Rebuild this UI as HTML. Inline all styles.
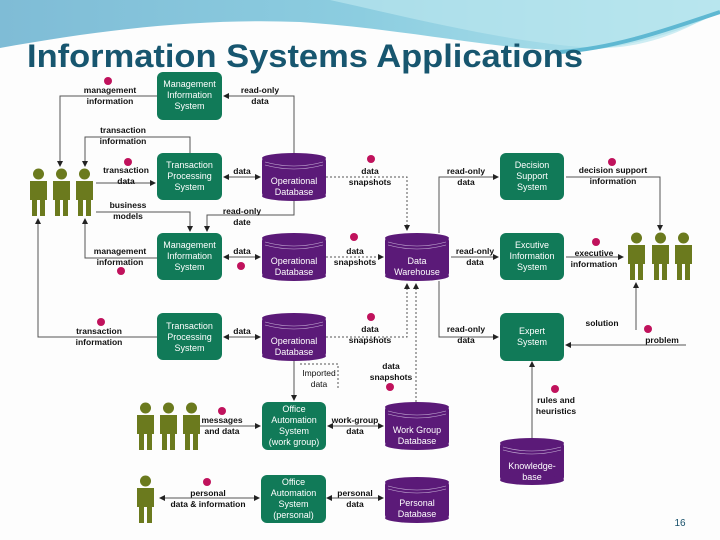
<!DOCTYPE html>
<html><head><meta charset="utf-8"><style>
html,body{margin:0;padding:0;background:#fff}
svg{display:block}
text{font-family:"Liberation Sans",sans-serif}
.l{font-size:8.5px;fill:#111;text-anchor:middle;font-weight:bold}
.w{font-size:9px;fill:#fff;text-anchor:middle}
.ln{stroke:#555;stroke-width:1;fill:none}
.ds{stroke:#555;stroke-width:1;fill:none;stroke-dasharray:2,2}
</style></head><body>
<svg width="720" height="540" viewBox="0 0 720 540" xmlns="http://www.w3.org/2000/svg">
<defs>
<linearGradient id="bg" x1="0" y1="0" x2="1" y2="0">
<stop offset="0" stop-color="#7fbcd6"/><stop offset="0.5" stop-color="#8ccde0"/><stop offset="1" stop-color="#b6e6ee"/></linearGradient>
<marker id="a" markerWidth="6" markerHeight="6" refX="5" refY="3" orient="auto" markerUnits="userSpaceOnUse"><path d="M0,0 L6,3 L0,6z" fill="#222"/></marker>
<marker id="s" markerWidth="6" markerHeight="6" refX="1" refY="3" orient="auto" markerUnits="userSpaceOnUse"><path d="M6,0 L0,3 L6,6z" fill="#222"/></marker>
<g id="p"><circle cx="10.5" cy="6" r="5.5" fill="#6b7a1e"/><path d="M2,13 H19 V32 H17 V48 H12 V32 H9 V48 H4 V32 H2z" fill="#6b7a1e"/></g>
</defs>
<rect width="720" height="540" fill="#fdfdfd"/>
<path d="M0,0 H720 V12 C690,28 640,45 590,50 C520,55 420,30 300,22 C200,18 100,30 0,48Z" fill="url(#bg)"/>
<path d="M330,0 C420,20 520,45 600,48 C650,48 690,28 720,10 V0Z" fill="#b9e6ee" opacity="0.7"/>
<path d="M560,52 C620,48 680,25 720,12" stroke="#5fb8d2" stroke-width="4" fill="none"/>
<text x="27" y="67" font-size="32" font-weight="bold" fill="#17566f" textLength="556" lengthAdjust="spacingAndGlyphs">Information Systems Applications</text>

<!-- connectors -->
<g class="ln">
<path d="M157,96 H60 V166" marker-end="url(#a)"/>
<path d="M294,153 V96 H224" marker-end="url(#a)"/>
<path d="M190,153 V137 H85 V166" marker-end="url(#a)"/>
<path d="M96,183 H155" marker-end="url(#a)"/>
<path d="M224,177 H260" marker-start="url(#s)" marker-end="url(#a)"/>
<path d="M96,212 H190 V231" marker-end="url(#a)"/>
<path d="M294,200 V215 H207 V231" marker-end="url(#a)"/>
<path d="M157,258 H85 V219" marker-end="url(#a)"/>
<path d="M224,257 H260" marker-start="url(#s)" marker-end="url(#a)"/>
<path d="M157,337 H38 V219" marker-end="url(#a)"/>
<path d="M224,337 H260" marker-start="url(#s)" marker-end="url(#a)"/>
<path d="M439,233 V177 H498" marker-end="url(#a)"/>
<path d="M451,257 H498" marker-end="url(#a)"/>
<path d="M439,281 V337 H498" marker-end="url(#a)"/>
<path d="M566,177 H660 V230" marker-end="url(#a)"/>
<path d="M566,257 H623" marker-end="url(#a)"/>
<path d="M636,330 V283" marker-end="url(#a)"/>
<path d="M686,345 H566" marker-end="url(#a)"/>
<path d="M532,438 V362" marker-end="url(#a)"/>
<path d="M294,361 V400" marker-end="url(#a)"/>
<path d="M187,426 H260" marker-start="url(#s)" marker-end="url(#a)"/>
<path d="M328,426 H383" marker-start="url(#s)" marker-end="url(#a)"/>
<path d="M160,498 H259" marker-start="url(#s)" marker-end="url(#a)"/>
<path d="M327,498 H383" marker-start="url(#s)" marker-end="url(#a)"/>
</g>
<g class="ds">
<path d="M326,177 H407 V230" marker-end="url(#a)"/>
<path d="M326,257 H383" marker-end="url(#a)"/>
<path d="M326,337 H407 V284" marker-end="url(#a)"/>
<path d="M416,402 V284" marker-end="url(#a)"/>
<path d="M300,364 H338 V390"/>
</g>

<!-- green boxes -->
<g fill="#117a58">
<rect x="157" y="72" width="65" height="48" rx="6"/>
<rect x="157" y="153" width="65" height="47" rx="6"/>
<rect x="157" y="233" width="65" height="47" rx="6"/>
<rect x="157" y="313" width="65" height="47" rx="6"/>
<rect x="262" y="402" width="64" height="48" rx="6"/>
<rect x="261" y="475" width="65" height="48" rx="6"/>
<rect x="500" y="153" width="64" height="47" rx="6"/>
<rect x="500" y="233" width="64" height="47" rx="6"/>
<rect x="500" y="313" width="64" height="48" rx="6"/>
</g>
<g class="w">
<text x="189.5" y="87">Management</text><text x="189.5" y="98">Information</text><text x="189.5" y="109">System</text>
<text x="189.5" y="168">Transaction</text><text x="189.5" y="179">Processing</text><text x="189.5" y="190">System</text>
<text x="189.5" y="248">Management</text><text x="189.5" y="259">Information</text><text x="189.5" y="270">System</text>
<text x="189.5" y="329">Transaction</text><text x="189.5" y="340">Processing</text><text x="189.5" y="351">System</text>
<text x="294" y="412">Office</text><text x="294" y="423">Automation</text><text x="294" y="434">System</text><text x="294" y="445">(work group)</text>
<text x="293.5" y="485">Office</text><text x="293.5" y="496">Automation</text><text x="293.5" y="507">System</text><text x="293.5" y="518">(personal)</text>
<text x="532" y="168">Decision</text><text x="532" y="179">Support</text><text x="532" y="190">System</text>
<text x="532" y="248">Excutive</text><text x="532" y="259">Information</text><text x="532" y="270">System</text>
<text x="532" y="334">Expert</text><text x="532" y="345">System</text>
</g>

<!-- cylinders -->
<g>
<g fill="#5b1a78">
<rect x="262" y="157" width="64" height="40" rx="4"/><ellipse cx="294" cy="158" rx="32" ry="5"/><ellipse cx="294" cy="196" rx="32" ry="5"/>
<rect x="262" y="237" width="64" height="40" rx="4"/><ellipse cx="294" cy="238" rx="32" ry="5"/><ellipse cx="294" cy="276" rx="32" ry="5"/>
<rect x="262" y="317" width="64" height="40" rx="4"/><ellipse cx="294" cy="318" rx="32" ry="5"/><ellipse cx="294" cy="356" rx="32" ry="5"/>
<rect x="385" y="237" width="64" height="40" rx="4"/><ellipse cx="417" cy="238" rx="32" ry="5"/><ellipse cx="417" cy="276" rx="32" ry="5"/>
<rect x="385" y="406" width="64" height="40" rx="4"/><ellipse cx="417" cy="407" rx="32" ry="5"/><ellipse cx="417" cy="445" rx="32" ry="5"/>
<rect x="385" y="481" width="64" height="38" rx="4"/><ellipse cx="417" cy="482" rx="32" ry="5"/><ellipse cx="417" cy="518" rx="32" ry="5"/>
<rect x="500" y="442" width="64" height="39" rx="4"/><ellipse cx="532" cy="443" rx="32" ry="5"/><ellipse cx="532" cy="480" rx="32" ry="5"/>
</g>
<g stroke="#c9b3d8" stroke-width="0.6" fill="none">
<path d="M265,162 Q294,170 323,162 M265,165 Q294,173 323,165"/>
<path d="M265,242 Q294,250 323,242 M265,245 Q294,253 323,245"/>
<path d="M265,322 Q294,330 323,322 M265,325 Q294,333 323,325"/>
<path d="M388,242 Q417,250 446,242 M388,245 Q417,253 446,245"/>
<path d="M388,411 Q417,419 446,411 M388,414 Q417,422 446,414"/>
<path d="M388,486 Q417,494 446,486 M388,489 Q417,497 446,489"/>
<path d="M503,447 Q532,455 561,447 M503,450 Q532,458 561,450"/>
</g>
</g>
<g class="w">
<text x="294" y="184">Operational</text><text x="294" y="195">Database</text>
<text x="294" y="264">Operational</text><text x="294" y="275">Database</text>
<text x="294" y="344">Operational</text><text x="294" y="355">Database</text>
<text x="417" y="264">Data</text><text x="417" y="275">Warehouse</text>
<text x="417" y="433">Work Group</text><text x="417" y="444">Database</text>
<text x="417" y="506">Personal</text><text x="417" y="517">Database</text>
<text x="532" y="469">Knowledge-</text><text x="532" y="480">base</text>
</g>

<!-- people -->
<use href="#p" x="28" y="168"/><use href="#p" x="51" y="168"/><use href="#p" x="74" y="168"/>
<use href="#p" x="626" y="232"/><use href="#p" x="650" y="232"/><use href="#p" x="673" y="232"/>
<use href="#p" x="135" y="402"/><use href="#p" x="158" y="402"/><use href="#p" x="181" y="402"/>
<use href="#p" x="135" y="475"/>

<!-- badges -->
<g fill="#c0125c">
<circle cx="108" cy="81" r="4"/><circle cx="128" cy="162" r="4"/><circle cx="121" cy="271" r="4"/><circle cx="101" cy="322" r="4"/>
<circle cx="241" cy="266" r="4"/><circle cx="371" cy="159" r="4"/><circle cx="354" cy="237" r="4"/><circle cx="371" cy="317" r="4"/>
<circle cx="390" cy="387" r="4"/><circle cx="612" cy="162" r="4"/><circle cx="596" cy="242" r="4"/><circle cx="648" cy="329" r="4"/>
<circle cx="555" cy="389" r="4"/><circle cx="222" cy="411" r="4"/><circle cx="207" cy="482" r="4"/>
</g>

<!-- labels -->
<g class="l">
<text x="110" y="93">management</text><text x="110" y="104">information</text>
<text x="260" y="93">read-only</text><text x="260" y="104">data</text>
<text x="123" y="133">transaction</text><text x="123" y="144">information</text>
<text x="126" y="173">transaction</text><text x="126" y="184">data</text>
<text x="242" y="174">data</text>
<text x="128" y="208">business</text><text x="128" y="219">models</text>
<text x="242" y="214">read-only</text><text x="242" y="225">date</text>
<text x="120" y="254">management</text><text x="120" y="265">information</text>
<text x="242" y="254">data</text>
<text x="99" y="334">transaction</text><text x="99" y="345">information</text>
<text x="242" y="334">data</text>
<text x="370" y="174">data</text><text x="370" y="185">snapshots</text>
<text x="355" y="254">data</text><text x="355" y="265">snapshots</text>
<text x="370" y="332">data</text><text x="370" y="343">snapshots</text>
<text x="391" y="369">data</text><text x="391" y="380">snapshots</text>
<text x="319" y="376" font-weight="normal">Imported</text><text x="319" y="387" font-weight="normal">data</text>
<text x="466" y="174">read-only</text><text x="466" y="185">data</text>
<text x="475" y="254">read-only</text><text x="475" y="265">data</text>
<text x="466" y="332">read-only</text><text x="466" y="343">data</text>
<text x="613" y="173">decision support</text><text x="613" y="184">information</text>
<text x="594" y="256">executive</text><text x="594" y="267">information</text>
<text x="602" y="326">solution</text><text x="662" y="343">problem</text>
<text x="556" y="403">rules and</text><text x="556" y="414">heuristics</text>
<text x="222" y="423">messages</text><text x="222" y="434">and data</text>
<text x="355" y="423">work-group</text><text x="355" y="434">data</text>
<text x="208" y="496">personal</text><text x="208" y="507">data &amp; information</text>
<text x="355" y="496">personal</text><text x="355" y="507">data</text>
</g>
<text x="680" y="526" font-size="10" fill="#17506a" text-anchor="middle" font-family="Liberation Serif">16</text>
</svg>
</body></html>
